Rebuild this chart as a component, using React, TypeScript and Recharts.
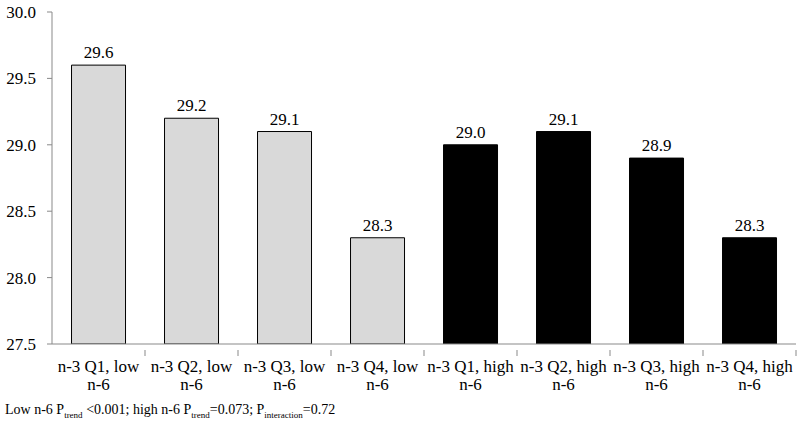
import React from 'react';
import { BarChart, Bar, XAxis, YAxis, Cell, LabelList } from 'recharts';

const categories = [
  'n-3 Q1, low|n-6',
  'n-3 Q2, low|n-6',
  'n-3 Q3, low|n-6',
  'n-3 Q4, low|n-6',
  'n-3 Q1, high|n-6',
  'n-3 Q2, high|n-6',
  'n-3 Q3, high|n-6',
  'n-3 Q4, high|n-6',
];
const values = [29.6, 29.2, 29.1, 28.3, 29.0, 29.1, 28.9, 28.3];
const groups = ['low', 'low', 'low', 'low', 'high', 'high', 'high', 'high'];
const yTicks = [27.5, 28.0, 28.5, 29.0, 29.5, 30.0];

const FONT = "'Liberation Serif', Tinos, 'Times New Roman', serif";
const AXIS = '#898989';
const CHART_W = 800;
const CHART_H = 400;
const MARGIN = { top: 12, right: 4, left: 0, bottom: 6 };
const Y_W = 52;
const BAND = (CHART_W - MARGIN.left - MARGIN.right - Y_W) / categories.length;

const data = categories.map((c, i) => ({ name: c, value: values[i], group: groups[i] }));

// Excel-style axis: ticks sit between categories, labels wrap to two lines
const CategoryTick = (props: any) => {
  const { x, y, payload } = props;
  const lines = String(payload.value).split('|');
  const edge = x + BAND / 2;
  return (
    <g>
      <line x1={edge} y1={y - 2} x2={edge} y2={y + 4} stroke={AXIS} />
      {lines.map((l, i) => (
        <text key={i} x={x} y={y + 20 + i * 18} textAnchor="middle" style={{ fontFamily: FONT }} fontSize={17} fill="#000">
          {l}
        </text>
      ))}
    </g>
  );
};

export default function App() {
  return (
    <div
      style={{
        position: 'absolute',
        left: 0,
        top: 0,
        width: 800,
        height: 428,
        background: '#fff',
        fontFamily: FONT,
      }}
    >
      <BarChart width={CHART_W} height={CHART_H} data={data} margin={MARGIN} barCategoryGap="21%" style={{ fontFamily: FONT }}>
        <XAxis
          dataKey="name"
          stroke={AXIS}
          tickLine={false}
          tick={<CategoryTick />}
          interval={0}
          height={50}
        />
        <YAxis
          domain={[27.5, 30]}
          ticks={yTicks}
          width={Y_W}
          stroke={AXIS}
          tickSize={5}
          tickMargin={11}
          tickFormatter={(v: number) => v.toFixed(1)}
          tick={{ fill: '#000', fontSize: 17, style: { fontFamily: FONT } }}
          allowDataOverflow
        />
        <Bar dataKey="value" isAnimationActive={false} stroke="#000" strokeWidth={1}>
          {data.map((d, i) => (
            <Cell key={`cell-${i}`} fill={d.group === 'low' ? '#d9d9d9' : '#000000'} />
          ))}
          <LabelList
            dataKey="value"
            position="top"
            offset={7}
            formatter={(v: any) => Number(v).toFixed(1)}
            fill="#000"
            fontSize={17}
            style={{ fontFamily: FONT }}
          />
        </Bar>
      </BarChart>
      <div
        style={{
          position: 'absolute',
          left: 5,
          top: 402,
          fontSize: 14,
          color: '#000',
          whiteSpace: 'nowrap',
        }}
      >
        Low n-6 P<sub style={{ fontSize: 9 }}>trend</sub> &lt;0.001; high n-6 P<sub style={{ fontSize: 9 }}>trend</sub>=0.073; P
        <sub style={{ fontSize: 9 }}>interaction</sub>=0.72
      </div>
    </div>
  );
}
